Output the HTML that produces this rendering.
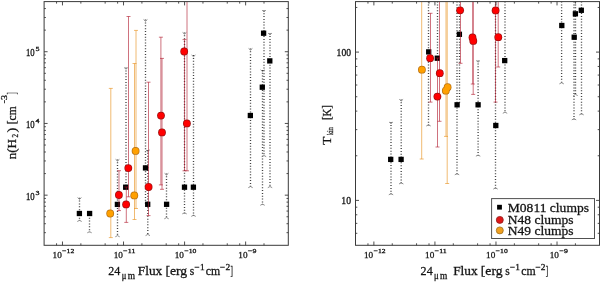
<!DOCTYPE html>
<html><head><meta charset="utf-8"><style>
html,body{margin:0;padding:0;background:#fff;width:600px;height:282px;overflow:hidden;font-family:"Liberation Serif",serif;}
svg{display:block;will-change:transform}
</style></head><body>
<svg width="600" height="282" viewBox="0 0 600 282"><defs><clipPath id="c0"><rect x="44.1" y="1.6" width="244.20000000000002" height="243.70000000000002"/></clipPath><clipPath id="c311"><rect x="355.5" y="1.6" width="244.0" height="243.70000000000002"/></clipPath></defs>
<g clip-path="url(#c0)">
<line x1="79.50" y1="197.70" x2="79.50" y2="221.00" stroke="#404040" stroke-width="1.35" stroke-dasharray="1 1.86"/>
<polyline points="77.60,197.60 79.50,199.30 81.40,197.60" fill="none" stroke="#7a7a7a" stroke-width="0.85"/>
<polyline points="77.30,221.50 79.50,220.30 81.70,221.50" fill="none" stroke="#7a7a7a" stroke-width="0.85"/>
<line x1="89.50" y1="212.00" x2="89.50" y2="232.30" stroke="#404040" stroke-width="1.35" stroke-dasharray="1 1.86"/>
<polyline points="87.30,232.80 89.50,231.60 91.70,232.80" fill="none" stroke="#7a7a7a" stroke-width="0.85"/>
<line x1="117.50" y1="159.40" x2="117.50" y2="236.30" stroke="#404040" stroke-width="1.35" stroke-dasharray="1 1.86"/>
<polyline points="115.60,159.30 117.50,161.00 119.40,159.30" fill="none" stroke="#7a7a7a" stroke-width="0.85"/>
<polyline points="115.30,236.80 117.50,235.60 119.70,236.80" fill="none" stroke="#7a7a7a" stroke-width="0.85"/>
<line x1="126.00" y1="67.60" x2="126.00" y2="189.00" stroke="#404040" stroke-width="1.35" stroke-dasharray="1 1.86"/>
<polyline points="124.10,67.50 126.00,69.20 127.90,67.50" fill="none" stroke="#7a7a7a" stroke-width="0.85"/>
<line x1="145.50" y1="19.60" x2="145.50" y2="204.00" stroke="#404040" stroke-width="1.35" stroke-dasharray="1 1.86"/>
<polyline points="143.60,19.50 145.50,21.20 147.40,19.50" fill="none" stroke="#7a7a7a" stroke-width="0.85"/>
<line x1="147.80" y1="150.00" x2="147.80" y2="235.10" stroke="#404040" stroke-width="1.35" stroke-dasharray="1 1.86"/>
<polyline points="145.90,149.90 147.80,151.60 149.70,149.90" fill="none" stroke="#7a7a7a" stroke-width="0.85"/>
<polyline points="145.60,235.60 147.80,234.40 150.00,235.60" fill="none" stroke="#7a7a7a" stroke-width="0.85"/>
<line x1="166.50" y1="173.40" x2="166.50" y2="218.30" stroke="#404040" stroke-width="1.35" stroke-dasharray="1 1.86"/>
<polyline points="164.60,173.30 166.50,175.00 168.40,173.30" fill="none" stroke="#7a7a7a" stroke-width="0.85"/>
<polyline points="164.30,218.80 166.50,217.60 168.70,218.80" fill="none" stroke="#7a7a7a" stroke-width="0.85"/>
<line x1="184.50" y1="32.50" x2="184.50" y2="213.40" stroke="#404040" stroke-width="1.35" stroke-dasharray="1 1.86"/>
<polyline points="182.60,32.40 184.50,34.10 186.40,32.40" fill="none" stroke="#7a7a7a" stroke-width="0.85"/>
<polyline points="182.30,213.90 184.50,212.70 186.70,213.90" fill="none" stroke="#7a7a7a" stroke-width="0.85"/>
<line x1="193.50" y1="55.10" x2="193.50" y2="215.90" stroke="#404040" stroke-width="1.35" stroke-dasharray="1 1.86"/>
<polyline points="191.60,55.00 193.50,56.70 195.40,55.00" fill="none" stroke="#7a7a7a" stroke-width="0.85"/>
<polyline points="191.30,216.40 193.50,215.20 195.70,216.40" fill="none" stroke="#7a7a7a" stroke-width="0.85"/>
<line x1="250.50" y1="48.50" x2="250.50" y2="187.20" stroke="#404040" stroke-width="1.35" stroke-dasharray="1 1.86"/>
<polyline points="248.60,48.40 250.50,50.10 252.40,48.40" fill="none" stroke="#7a7a7a" stroke-width="0.85"/>
<polyline points="248.30,187.70 250.50,186.50 252.70,187.70" fill="none" stroke="#7a7a7a" stroke-width="0.85"/>
<line x1="262.50" y1="69.90" x2="262.50" y2="204.80" stroke="#404040" stroke-width="1.35" stroke-dasharray="1 1.86"/>
<polyline points="260.60,69.80 262.50,71.50 264.40,69.80" fill="none" stroke="#7a7a7a" stroke-width="0.85"/>
<polyline points="260.30,205.30 262.50,204.10 264.70,205.30" fill="none" stroke="#7a7a7a" stroke-width="0.85"/>
<line x1="264.00" y1="10.30" x2="264.00" y2="156.20" stroke="#404040" stroke-width="1.35" stroke-dasharray="1 1.86"/>
<polyline points="262.10,10.20 264.00,11.90 265.90,10.20" fill="none" stroke="#7a7a7a" stroke-width="0.85"/>
<polyline points="261.80,156.70 264.00,155.50 266.20,156.70" fill="none" stroke="#7a7a7a" stroke-width="0.85"/>
<line x1="270.00" y1="33.20" x2="270.00" y2="187.20" stroke="#404040" stroke-width="1.35" stroke-dasharray="1 1.86"/>
<polyline points="268.10,33.10 270.00,34.80 271.90,33.10" fill="none" stroke="#7a7a7a" stroke-width="0.85"/>
<polyline points="267.80,187.70 270.00,186.50 272.20,187.70" fill="none" stroke="#7a7a7a" stroke-width="0.85"/>
<rect x="76.75" y="210.85" width="5.3" height="5.3" fill="#000"/>
<rect x="86.95" y="210.85" width="5.3" height="5.3" fill="#000"/>
<rect x="114.75" y="201.75" width="5.3" height="5.3" fill="#000"/>
<rect x="123.05" y="184.55" width="5.3" height="5.3" fill="#000"/>
<rect x="142.85" y="165.25" width="5.3" height="5.3" fill="#000"/>
<rect x="145.05" y="201.65" width="5.3" height="5.3" fill="#000"/>
<rect x="163.95" y="201.65" width="5.3" height="5.3" fill="#000"/>
<rect x="181.85" y="184.55" width="5.3" height="5.3" fill="#000"/>
<rect x="190.75" y="184.55" width="5.3" height="5.3" fill="#000"/>
<rect x="247.70" y="112.85" width="5.3" height="5.3" fill="#000"/>
<rect x="259.65" y="84.55" width="5.3" height="5.3" fill="#000"/>
<rect x="260.95" y="30.55" width="5.3" height="5.3" fill="#000"/>
<rect x="267.15" y="58.25" width="5.3" height="5.3" fill="#000"/>
<line x1="119.00" y1="170.70" x2="119.00" y2="210.60" stroke="rgb(175,20,40)" stroke-width="1.0" stroke-opacity="0.6"/>
<line x1="117.00" y1="170.70" x2="121.00" y2="170.70" stroke="rgb(175,20,40)" stroke-width="1.0" stroke-opacity="0.6"/>
<line x1="117.00" y1="210.60" x2="121.00" y2="210.60" stroke="rgb(175,20,40)" stroke-width="1.0" stroke-opacity="0.6"/>
<line x1="126.30" y1="187.00" x2="126.30" y2="222.40" stroke="rgb(175,20,40)" stroke-width="1.0" stroke-opacity="0.6"/>
<line x1="124.30" y1="187.00" x2="128.30" y2="187.00" stroke="rgb(175,20,40)" stroke-width="1.0" stroke-opacity="0.6"/>
<line x1="124.30" y1="222.40" x2="128.30" y2="222.40" stroke="rgb(175,20,40)" stroke-width="1.0" stroke-opacity="0.6"/>
<line x1="128.50" y1="16.50" x2="128.50" y2="196.80" stroke="rgb(175,20,40)" stroke-width="1.0" stroke-opacity="0.6"/>
<line x1="126.50" y1="16.50" x2="130.50" y2="16.50" stroke="rgb(175,20,40)" stroke-width="1.0" stroke-opacity="0.6"/>
<line x1="126.50" y1="196.80" x2="130.50" y2="196.80" stroke="rgb(175,20,40)" stroke-width="1.0" stroke-opacity="0.6"/>
<line x1="148.50" y1="82.20" x2="148.50" y2="215.60" stroke="rgb(175,20,40)" stroke-width="1.0" stroke-opacity="0.6"/>
<line x1="146.50" y1="82.20" x2="150.50" y2="82.20" stroke="rgb(175,20,40)" stroke-width="1.0" stroke-opacity="0.6"/>
<line x1="146.50" y1="215.60" x2="150.50" y2="215.60" stroke="rgb(175,20,40)" stroke-width="1.0" stroke-opacity="0.6"/>
<line x1="160.90" y1="37.20" x2="160.90" y2="184.90" stroke="rgb(175,20,40)" stroke-width="1.0" stroke-opacity="0.6"/>
<line x1="158.90" y1="37.20" x2="162.90" y2="37.20" stroke="rgb(175,20,40)" stroke-width="1.0" stroke-opacity="0.6"/>
<line x1="158.90" y1="184.90" x2="162.90" y2="184.90" stroke="rgb(175,20,40)" stroke-width="1.0" stroke-opacity="0.6"/>
<line x1="162.00" y1="58.40" x2="162.00" y2="189.30" stroke="rgb(175,20,40)" stroke-width="1.0" stroke-opacity="0.6"/>
<line x1="160.00" y1="58.40" x2="164.00" y2="58.40" stroke="rgb(175,20,40)" stroke-width="1.0" stroke-opacity="0.6"/>
<line x1="160.00" y1="189.30" x2="164.00" y2="189.30" stroke="rgb(175,20,40)" stroke-width="1.0" stroke-opacity="0.6"/>
<line x1="184.50" y1="39.60" x2="184.50" y2="170.80" stroke="rgb(175,20,40)" stroke-width="1.0" stroke-opacity="0.6"/>
<line x1="182.50" y1="39.60" x2="186.50" y2="39.60" stroke="rgb(175,20,40)" stroke-width="1.0" stroke-opacity="0.6"/>
<line x1="182.50" y1="170.80" x2="186.50" y2="170.80" stroke="rgb(175,20,40)" stroke-width="1.0" stroke-opacity="0.6"/>
<line x1="187.00" y1="1.60" x2="187.00" y2="170.80" stroke="rgb(175,20,40)" stroke-width="1.0" stroke-opacity="0.6"/>
<line x1="185.00" y1="170.80" x2="189.00" y2="170.80" stroke="rgb(175,20,40)" stroke-width="1.0" stroke-opacity="0.6"/>
<circle cx="118.90" cy="195.00" r="3.9" fill="#a01010" stroke="none" stroke-width="0"/>
<circle cx="126.10" cy="204.40" r="3.9" fill="#a01010" stroke="none" stroke-width="0"/>
<circle cx="128.30" cy="168.10" r="3.9" fill="#a01010" stroke="none" stroke-width="0"/>
<circle cx="148.60" cy="187.00" r="3.9" fill="#a01010" stroke="none" stroke-width="0"/>
<circle cx="161.00" cy="115.60" r="3.9" fill="#a01010" stroke="none" stroke-width="0"/>
<circle cx="162.00" cy="132.40" r="3.9" fill="#a01010" stroke="none" stroke-width="0"/>
<circle cx="184.20" cy="51.50" r="3.9" fill="#a01010" stroke="none" stroke-width="0"/>
<circle cx="186.90" cy="123.40" r="3.9" fill="#a01010" stroke="none" stroke-width="0"/>
<circle cx="118.90" cy="195.00" r="3.15" fill="#ff0000" stroke="none" stroke-width="0"/>
<circle cx="126.10" cy="204.40" r="3.15" fill="#ff0000" stroke="none" stroke-width="0"/>
<circle cx="128.30" cy="168.10" r="3.15" fill="#ff0000" stroke="none" stroke-width="0"/>
<circle cx="148.60" cy="187.00" r="3.15" fill="#ff0000" stroke="none" stroke-width="0"/>
<circle cx="161.00" cy="115.60" r="3.15" fill="#ff0000" stroke="none" stroke-width="0"/>
<circle cx="162.00" cy="132.40" r="3.15" fill="#ff0000" stroke="none" stroke-width="0"/>
<circle cx="184.20" cy="51.50" r="3.15" fill="#ff0000" stroke="none" stroke-width="0"/>
<circle cx="186.90" cy="123.40" r="3.15" fill="#ff0000" stroke="none" stroke-width="0"/>
<line x1="110.80" y1="88.40" x2="110.80" y2="237.60" stroke="rgb(230,140,20)" stroke-width="1.0" stroke-opacity="0.6"/>
<line x1="108.80" y1="88.40" x2="112.80" y2="88.40" stroke="rgb(230,140,20)" stroke-width="1.0" stroke-opacity="0.6"/>
<line x1="108.80" y1="237.60" x2="112.80" y2="237.60" stroke="rgb(230,140,20)" stroke-width="1.0" stroke-opacity="0.6"/>
<line x1="134.50" y1="63.50" x2="134.50" y2="219.50" stroke="rgb(230,140,20)" stroke-width="1.0" stroke-opacity="0.6"/>
<line x1="132.50" y1="63.50" x2="136.50" y2="63.50" stroke="rgb(230,140,20)" stroke-width="1.0" stroke-opacity="0.6"/>
<line x1="132.50" y1="219.50" x2="136.50" y2="219.50" stroke="rgb(230,140,20)" stroke-width="1.0" stroke-opacity="0.6"/>
<line x1="136.00" y1="30.40" x2="136.00" y2="208.50" stroke="rgb(230,140,20)" stroke-width="1.0" stroke-opacity="0.6"/>
<line x1="134.00" y1="30.40" x2="138.00" y2="30.40" stroke="rgb(230,140,20)" stroke-width="1.0" stroke-opacity="0.6"/>
<line x1="134.00" y1="208.50" x2="138.00" y2="208.50" stroke="rgb(230,140,20)" stroke-width="1.0" stroke-opacity="0.6"/>
<circle cx="110.20" cy="213.50" r="3.9" fill="#b87010" stroke="none" stroke-width="0"/>
<circle cx="134.30" cy="195.40" r="3.9" fill="#b87010" stroke="none" stroke-width="0"/>
<circle cx="135.60" cy="150.90" r="3.9" fill="#b87010" stroke="none" stroke-width="0"/>
<circle cx="110.20" cy="213.50" r="3.15" fill="#ffa000" stroke="none" stroke-width="0"/>
<circle cx="134.30" cy="195.40" r="3.15" fill="#ffa000" stroke="none" stroke-width="0"/>
<circle cx="135.60" cy="150.90" r="3.15" fill="#ffa000" stroke="none" stroke-width="0"/>
</g>
<rect x="44.10" y="1.60" width="244.20" height="243.70" fill="none" stroke="#3a3a3a" stroke-width="1.0"/>
<line x1="56.56" y1="245.30" x2="56.56" y2="243.30" stroke="#3a3a3a" stroke-width="0.9" />
<line x1="56.56" y1="1.60" x2="56.56" y2="3.60" stroke="#3a3a3a" stroke-width="0.9" />
<line x1="62.48" y1="245.30" x2="62.48" y2="241.50" stroke="#3a3a3a" stroke-width="0.9" />
<line x1="62.48" y1="1.60" x2="62.48" y2="5.40" stroke="#3a3a3a" stroke-width="0.9" />
<line x1="80.86" y1="245.30" x2="80.86" y2="243.30" stroke="#3a3a3a" stroke-width="0.9" />
<line x1="80.86" y1="1.60" x2="80.86" y2="3.60" stroke="#3a3a3a" stroke-width="0.9" />
<line x1="105.15" y1="245.30" x2="105.15" y2="243.30" stroke="#3a3a3a" stroke-width="0.9" />
<line x1="105.15" y1="1.60" x2="105.15" y2="3.60" stroke="#3a3a3a" stroke-width="0.9" />
<line x1="117.61" y1="245.30" x2="117.61" y2="243.30" stroke="#3a3a3a" stroke-width="0.9" />
<line x1="117.61" y1="1.60" x2="117.61" y2="3.60" stroke="#3a3a3a" stroke-width="0.9" />
<line x1="123.53" y1="245.30" x2="123.53" y2="241.50" stroke="#3a3a3a" stroke-width="0.9" />
<line x1="123.53" y1="1.60" x2="123.53" y2="5.40" stroke="#3a3a3a" stroke-width="0.9" />
<line x1="141.91" y1="245.30" x2="141.91" y2="243.30" stroke="#3a3a3a" stroke-width="0.9" />
<line x1="141.91" y1="1.60" x2="141.91" y2="3.60" stroke="#3a3a3a" stroke-width="0.9" />
<line x1="166.20" y1="245.30" x2="166.20" y2="243.30" stroke="#3a3a3a" stroke-width="0.9" />
<line x1="166.20" y1="1.60" x2="166.20" y2="3.60" stroke="#3a3a3a" stroke-width="0.9" />
<line x1="178.66" y1="245.30" x2="178.66" y2="243.30" stroke="#3a3a3a" stroke-width="0.9" />
<line x1="178.66" y1="1.60" x2="178.66" y2="3.60" stroke="#3a3a3a" stroke-width="0.9" />
<line x1="184.58" y1="245.30" x2="184.58" y2="241.50" stroke="#3a3a3a" stroke-width="0.9" />
<line x1="184.58" y1="1.60" x2="184.58" y2="5.40" stroke="#3a3a3a" stroke-width="0.9" />
<line x1="202.96" y1="245.30" x2="202.96" y2="243.30" stroke="#3a3a3a" stroke-width="0.9" />
<line x1="202.96" y1="1.60" x2="202.96" y2="3.60" stroke="#3a3a3a" stroke-width="0.9" />
<line x1="227.25" y1="245.30" x2="227.25" y2="243.30" stroke="#3a3a3a" stroke-width="0.9" />
<line x1="227.25" y1="1.60" x2="227.25" y2="3.60" stroke="#3a3a3a" stroke-width="0.9" />
<line x1="239.71" y1="245.30" x2="239.71" y2="243.30" stroke="#3a3a3a" stroke-width="0.9" />
<line x1="239.71" y1="1.60" x2="239.71" y2="3.60" stroke="#3a3a3a" stroke-width="0.9" />
<line x1="245.63" y1="245.30" x2="245.63" y2="241.50" stroke="#3a3a3a" stroke-width="0.9" />
<line x1="245.63" y1="1.60" x2="245.63" y2="5.40" stroke="#3a3a3a" stroke-width="0.9" />
<line x1="264.01" y1="245.30" x2="264.01" y2="243.30" stroke="#3a3a3a" stroke-width="0.9" />
<line x1="264.01" y1="1.60" x2="264.01" y2="3.60" stroke="#3a3a3a" stroke-width="0.9" />
<line x1="44.10" y1="232.67" x2="45.90" y2="232.67" stroke="#3a3a3a" stroke-width="0.9" />
<line x1="288.30" y1="232.67" x2="286.50" y2="232.67" stroke="#3a3a3a" stroke-width="0.9" />
<line x1="44.10" y1="223.71" x2="45.90" y2="223.71" stroke="#3a3a3a" stroke-width="0.9" />
<line x1="288.30" y1="223.71" x2="286.50" y2="223.71" stroke="#3a3a3a" stroke-width="0.9" />
<line x1="44.10" y1="216.76" x2="45.90" y2="216.76" stroke="#3a3a3a" stroke-width="0.9" />
<line x1="288.30" y1="216.76" x2="286.50" y2="216.76" stroke="#3a3a3a" stroke-width="0.9" />
<line x1="44.10" y1="211.08" x2="45.90" y2="211.08" stroke="#3a3a3a" stroke-width="0.9" />
<line x1="288.30" y1="211.08" x2="286.50" y2="211.08" stroke="#3a3a3a" stroke-width="0.9" />
<line x1="44.10" y1="206.28" x2="45.90" y2="206.28" stroke="#3a3a3a" stroke-width="0.9" />
<line x1="288.30" y1="206.28" x2="286.50" y2="206.28" stroke="#3a3a3a" stroke-width="0.9" />
<line x1="44.10" y1="202.12" x2="45.90" y2="202.12" stroke="#3a3a3a" stroke-width="0.9" />
<line x1="288.30" y1="202.12" x2="286.50" y2="202.12" stroke="#3a3a3a" stroke-width="0.9" />
<line x1="44.10" y1="198.45" x2="45.90" y2="198.45" stroke="#3a3a3a" stroke-width="0.9" />
<line x1="288.30" y1="198.45" x2="286.50" y2="198.45" stroke="#3a3a3a" stroke-width="0.9" />
<line x1="44.10" y1="195.17" x2="47.60" y2="195.17" stroke="#3a3a3a" stroke-width="0.9" />
<line x1="288.30" y1="195.17" x2="284.80" y2="195.17" stroke="#3a3a3a" stroke-width="0.9" />
<line x1="44.10" y1="173.58" x2="45.90" y2="173.58" stroke="#3a3a3a" stroke-width="0.9" />
<line x1="288.30" y1="173.58" x2="286.50" y2="173.58" stroke="#3a3a3a" stroke-width="0.9" />
<line x1="44.10" y1="160.95" x2="45.90" y2="160.95" stroke="#3a3a3a" stroke-width="0.9" />
<line x1="288.30" y1="160.95" x2="286.50" y2="160.95" stroke="#3a3a3a" stroke-width="0.9" />
<line x1="44.10" y1="151.99" x2="45.90" y2="151.99" stroke="#3a3a3a" stroke-width="0.9" />
<line x1="288.30" y1="151.99" x2="286.50" y2="151.99" stroke="#3a3a3a" stroke-width="0.9" />
<line x1="44.10" y1="145.04" x2="45.90" y2="145.04" stroke="#3a3a3a" stroke-width="0.9" />
<line x1="288.30" y1="145.04" x2="286.50" y2="145.04" stroke="#3a3a3a" stroke-width="0.9" />
<line x1="44.10" y1="139.36" x2="45.90" y2="139.36" stroke="#3a3a3a" stroke-width="0.9" />
<line x1="288.30" y1="139.36" x2="286.50" y2="139.36" stroke="#3a3a3a" stroke-width="0.9" />
<line x1="44.10" y1="134.56" x2="45.90" y2="134.56" stroke="#3a3a3a" stroke-width="0.9" />
<line x1="288.30" y1="134.56" x2="286.50" y2="134.56" stroke="#3a3a3a" stroke-width="0.9" />
<line x1="44.10" y1="130.40" x2="45.90" y2="130.40" stroke="#3a3a3a" stroke-width="0.9" />
<line x1="288.30" y1="130.40" x2="286.50" y2="130.40" stroke="#3a3a3a" stroke-width="0.9" />
<line x1="44.10" y1="126.73" x2="45.90" y2="126.73" stroke="#3a3a3a" stroke-width="0.9" />
<line x1="288.30" y1="126.73" x2="286.50" y2="126.73" stroke="#3a3a3a" stroke-width="0.9" />
<line x1="44.10" y1="123.45" x2="47.60" y2="123.45" stroke="#3a3a3a" stroke-width="0.9" />
<line x1="288.30" y1="123.45" x2="284.80" y2="123.45" stroke="#3a3a3a" stroke-width="0.9" />
<line x1="44.10" y1="101.86" x2="45.90" y2="101.86" stroke="#3a3a3a" stroke-width="0.9" />
<line x1="288.30" y1="101.86" x2="286.50" y2="101.86" stroke="#3a3a3a" stroke-width="0.9" />
<line x1="44.10" y1="89.23" x2="45.90" y2="89.23" stroke="#3a3a3a" stroke-width="0.9" />
<line x1="288.30" y1="89.23" x2="286.50" y2="89.23" stroke="#3a3a3a" stroke-width="0.9" />
<line x1="44.10" y1="80.27" x2="45.90" y2="80.27" stroke="#3a3a3a" stroke-width="0.9" />
<line x1="288.30" y1="80.27" x2="286.50" y2="80.27" stroke="#3a3a3a" stroke-width="0.9" />
<line x1="44.10" y1="73.32" x2="45.90" y2="73.32" stroke="#3a3a3a" stroke-width="0.9" />
<line x1="288.30" y1="73.32" x2="286.50" y2="73.32" stroke="#3a3a3a" stroke-width="0.9" />
<line x1="44.10" y1="67.64" x2="45.90" y2="67.64" stroke="#3a3a3a" stroke-width="0.9" />
<line x1="288.30" y1="67.64" x2="286.50" y2="67.64" stroke="#3a3a3a" stroke-width="0.9" />
<line x1="44.10" y1="62.84" x2="45.90" y2="62.84" stroke="#3a3a3a" stroke-width="0.9" />
<line x1="288.30" y1="62.84" x2="286.50" y2="62.84" stroke="#3a3a3a" stroke-width="0.9" />
<line x1="44.10" y1="58.68" x2="45.90" y2="58.68" stroke="#3a3a3a" stroke-width="0.9" />
<line x1="288.30" y1="58.68" x2="286.50" y2="58.68" stroke="#3a3a3a" stroke-width="0.9" />
<line x1="44.10" y1="55.01" x2="45.90" y2="55.01" stroke="#3a3a3a" stroke-width="0.9" />
<line x1="288.30" y1="55.01" x2="286.50" y2="55.01" stroke="#3a3a3a" stroke-width="0.9" />
<line x1="44.10" y1="51.73" x2="47.60" y2="51.73" stroke="#3a3a3a" stroke-width="0.9" />
<line x1="288.30" y1="51.73" x2="284.80" y2="51.73" stroke="#3a3a3a" stroke-width="0.9" />
<line x1="44.10" y1="30.14" x2="45.90" y2="30.14" stroke="#3a3a3a" stroke-width="0.9" />
<line x1="288.30" y1="30.14" x2="286.50" y2="30.14" stroke="#3a3a3a" stroke-width="0.9" />
<line x1="44.10" y1="17.51" x2="45.90" y2="17.51" stroke="#3a3a3a" stroke-width="0.9" />
<line x1="288.30" y1="17.51" x2="286.50" y2="17.51" stroke="#3a3a3a" stroke-width="0.9" />
<line x1="44.10" y1="8.55" x2="45.90" y2="8.55" stroke="#3a3a3a" stroke-width="0.9" />
<line x1="288.30" y1="8.55" x2="286.50" y2="8.55" stroke="#3a3a3a" stroke-width="0.9" />
<g clip-path="url(#c311)">
<line x1="391.00" y1="122.10" x2="391.00" y2="194.30" stroke="#404040" stroke-width="1.35" stroke-dasharray="1 1.86"/>
<polyline points="389.10,122.00 391.00,123.70 392.90,122.00" fill="none" stroke="#7a7a7a" stroke-width="0.85"/>
<polyline points="388.80,194.80 391.00,193.60 393.20,194.80" fill="none" stroke="#7a7a7a" stroke-width="0.85"/>
<line x1="401.20" y1="99.40" x2="401.20" y2="183.50" stroke="#404040" stroke-width="1.35" stroke-dasharray="1 1.86"/>
<polyline points="399.30,99.30 401.20,101.00 403.10,99.30" fill="none" stroke="#7a7a7a" stroke-width="0.85"/>
<polyline points="399.00,184.00 401.20,182.80 403.40,184.00" fill="none" stroke="#7a7a7a" stroke-width="0.85"/>
<line x1="428.50" y1="1.60" x2="428.50" y2="125.50" stroke="#404040" stroke-width="1.35" stroke-dasharray="1 1.86"/>
<polyline points="426.30,126.00 428.50,124.80 430.70,126.00" fill="none" stroke="#7a7a7a" stroke-width="0.85"/>
<line x1="437.50" y1="1.60" x2="437.50" y2="60.00" stroke="#404040" stroke-width="1.35" stroke-dasharray="1 1.86"/>
<line x1="457.00" y1="1.60" x2="457.00" y2="174.30" stroke="#404040" stroke-width="1.35" stroke-dasharray="1 1.86"/>
<polyline points="454.80,174.80 457.00,173.60 459.20,174.80" fill="none" stroke="#7a7a7a" stroke-width="0.85"/>
<line x1="459.50" y1="1.60" x2="459.50" y2="104.00" stroke="#404040" stroke-width="1.35" stroke-dasharray="1 1.86"/>
<line x1="478.10" y1="60.60" x2="478.10" y2="155.70" stroke="#404040" stroke-width="1.35" stroke-dasharray="1 1.86"/>
<polyline points="476.20,60.50 478.10,62.20 480.00,60.50" fill="none" stroke="#7a7a7a" stroke-width="0.85"/>
<polyline points="475.90,156.20 478.10,155.00 480.30,156.20" fill="none" stroke="#7a7a7a" stroke-width="0.85"/>
<line x1="495.50" y1="1.60" x2="495.50" y2="188.60" stroke="#404040" stroke-width="1.35" stroke-dasharray="1 1.86"/>
<polyline points="493.30,189.10 495.50,187.90 497.70,189.10" fill="none" stroke="#7a7a7a" stroke-width="0.85"/>
<line x1="505.00" y1="1.60" x2="505.00" y2="112.80" stroke="#404040" stroke-width="1.35" stroke-dasharray="1 1.86"/>
<polyline points="502.80,113.30 505.00,112.10 507.20,113.30" fill="none" stroke="#7a7a7a" stroke-width="0.85"/>
<line x1="561.60" y1="1.60" x2="561.60" y2="83.40" stroke="#404040" stroke-width="1.35" stroke-dasharray="1 1.86"/>
<polyline points="559.40,83.90 561.60,82.70 563.80,83.90" fill="none" stroke="#7a7a7a" stroke-width="0.85"/>
<line x1="574.00" y1="1.60" x2="574.00" y2="119.40" stroke="#404040" stroke-width="1.35" stroke-dasharray="1 1.86"/>
<polyline points="571.80,119.90 574.00,118.70 576.20,119.90" fill="none" stroke="#7a7a7a" stroke-width="0.85"/>
<line x1="575.50" y1="1.60" x2="575.50" y2="95.10" stroke="#404040" stroke-width="1.35" stroke-dasharray="1 1.86"/>
<polyline points="573.30,95.60 575.50,94.40 577.70,95.60" fill="none" stroke="#7a7a7a" stroke-width="0.85"/>
<line x1="581.50" y1="1.60" x2="581.50" y2="114.40" stroke="#404040" stroke-width="1.35" stroke-dasharray="1 1.86"/>
<polyline points="579.30,114.90 581.50,113.70 583.70,114.90" fill="none" stroke="#7a7a7a" stroke-width="0.85"/>
<rect x="388.05" y="156.75" width="5.3" height="5.3" fill="#000"/>
<rect x="398.45" y="156.75" width="5.3" height="5.3" fill="#000"/>
<rect x="426.05" y="49.25" width="5.3" height="5.3" fill="#000"/>
<rect x="434.65" y="55.55" width="5.3" height="5.3" fill="#000"/>
<rect x="454.45" y="102.15" width="5.3" height="5.3" fill="#000"/>
<rect x="456.75" y="31.65" width="5.3" height="5.3" fill="#000"/>
<rect x="475.45" y="102.15" width="5.3" height="5.3" fill="#000"/>
<rect x="493.15" y="122.85" width="5.3" height="5.3" fill="#000"/>
<rect x="502.05" y="57.95" width="5.3" height="5.3" fill="#000"/>
<rect x="559.15" y="22.85" width="5.3" height="5.3" fill="#000"/>
<rect x="571.55" y="34.55" width="5.3" height="5.3" fill="#000"/>
<rect x="572.75" y="11.15" width="5.3" height="5.3" fill="#000"/>
<rect x="578.65" y="7.65" width="5.3" height="5.3" fill="#000"/>
<line x1="430.50" y1="13.30" x2="430.50" y2="102.10" stroke="rgb(175,20,40)" stroke-width="1.0" stroke-opacity="0.6"/>
<line x1="428.50" y1="13.30" x2="432.50" y2="13.30" stroke="rgb(175,20,40)" stroke-width="1.0" stroke-opacity="0.6"/>
<line x1="428.50" y1="102.10" x2="432.50" y2="102.10" stroke="rgb(175,20,40)" stroke-width="1.0" stroke-opacity="0.6"/>
<line x1="437.50" y1="58.00" x2="437.50" y2="147.00" stroke="rgb(175,20,40)" stroke-width="1.0" stroke-opacity="0.6"/>
<line x1="435.50" y1="58.00" x2="439.50" y2="58.00" stroke="rgb(175,20,40)" stroke-width="1.0" stroke-opacity="0.6"/>
<line x1="435.50" y1="147.00" x2="439.50" y2="147.00" stroke="rgb(175,20,40)" stroke-width="1.0" stroke-opacity="0.6"/>
<line x1="439.50" y1="1.60" x2="439.50" y2="121.30" stroke="rgb(175,20,40)" stroke-width="1.0" stroke-opacity="0.6"/>
<line x1="437.50" y1="121.30" x2="441.50" y2="121.30" stroke="rgb(175,20,40)" stroke-width="1.0" stroke-opacity="0.6"/>
<line x1="460.50" y1="1.60" x2="460.50" y2="63.30" stroke="rgb(175,20,40)" stroke-width="1.0" stroke-opacity="0.6"/>
<line x1="458.50" y1="63.30" x2="462.50" y2="63.30" stroke="rgb(175,20,40)" stroke-width="1.0" stroke-opacity="0.6"/>
<line x1="472.80" y1="1.60" x2="472.80" y2="84.00" stroke="rgb(175,20,40)" stroke-width="1.0" stroke-opacity="0.6"/>
<line x1="470.80" y1="84.00" x2="474.80" y2="84.00" stroke="rgb(175,20,40)" stroke-width="1.0" stroke-opacity="0.6"/>
<line x1="473.20" y1="1.60" x2="473.20" y2="94.40" stroke="rgb(175,20,40)" stroke-width="1.0" stroke-opacity="0.6"/>
<line x1="471.20" y1="94.40" x2="475.20" y2="94.40" stroke="rgb(175,20,40)" stroke-width="1.0" stroke-opacity="0.6"/>
<line x1="495.50" y1="1.60" x2="495.50" y2="102.10" stroke="rgb(175,20,40)" stroke-width="1.0" stroke-opacity="0.6"/>
<line x1="493.50" y1="102.10" x2="497.50" y2="102.10" stroke="rgb(175,20,40)" stroke-width="1.0" stroke-opacity="0.6"/>
<line x1="498.20" y1="1.60" x2="498.20" y2="67.00" stroke="rgb(175,20,40)" stroke-width="1.0" stroke-opacity="0.6"/>
<line x1="496.20" y1="67.00" x2="500.20" y2="67.00" stroke="rgb(175,20,40)" stroke-width="1.0" stroke-opacity="0.6"/>
<circle cx="430.10" cy="58.20" r="3.9" fill="#a01010" stroke="none" stroke-width="0"/>
<circle cx="437.40" cy="96.60" r="3.9" fill="#a01010" stroke="none" stroke-width="0"/>
<circle cx="439.80" cy="73.20" r="3.9" fill="#a01010" stroke="none" stroke-width="0"/>
<circle cx="460.10" cy="10.30" r="3.9" fill="#a01010" stroke="none" stroke-width="0"/>
<circle cx="472.50" cy="37.40" r="3.9" fill="#a01010" stroke="none" stroke-width="0"/>
<circle cx="473.30" cy="40.90" r="3.9" fill="#a01010" stroke="none" stroke-width="0"/>
<circle cx="495.60" cy="10.40" r="3.9" fill="#a01010" stroke="none" stroke-width="0"/>
<circle cx="498.30" cy="37.20" r="3.9" fill="#a01010" stroke="none" stroke-width="0"/>
<circle cx="430.10" cy="58.20" r="3.15" fill="#ff0000" stroke="none" stroke-width="0"/>
<circle cx="437.40" cy="96.60" r="3.15" fill="#ff0000" stroke="none" stroke-width="0"/>
<circle cx="439.80" cy="73.20" r="3.15" fill="#ff0000" stroke="none" stroke-width="0"/>
<circle cx="460.10" cy="10.30" r="3.15" fill="#ff0000" stroke="none" stroke-width="0"/>
<circle cx="472.50" cy="37.40" r="3.15" fill="#ff0000" stroke="none" stroke-width="0"/>
<circle cx="473.30" cy="40.90" r="3.15" fill="#ff0000" stroke="none" stroke-width="0"/>
<circle cx="495.60" cy="10.40" r="3.15" fill="#ff0000" stroke="none" stroke-width="0"/>
<circle cx="498.30" cy="37.20" r="3.15" fill="#ff0000" stroke="none" stroke-width="0"/>
<line x1="421.70" y1="1.60" x2="421.70" y2="159.00" stroke="rgb(230,140,20)" stroke-width="1.0" stroke-opacity="0.6"/>
<line x1="419.70" y1="159.00" x2="423.70" y2="159.00" stroke="rgb(230,140,20)" stroke-width="1.0" stroke-opacity="0.6"/>
<line x1="446.00" y1="1.60" x2="446.00" y2="136.40" stroke="rgb(230,140,20)" stroke-width="1.0" stroke-opacity="0.6"/>
<line x1="444.00" y1="136.40" x2="448.00" y2="136.40" stroke="rgb(230,140,20)" stroke-width="1.0" stroke-opacity="0.6"/>
<line x1="447.20" y1="1.60" x2="447.20" y2="183.50" stroke="rgb(230,140,20)" stroke-width="1.0" stroke-opacity="0.6"/>
<line x1="445.20" y1="183.50" x2="449.20" y2="183.50" stroke="rgb(230,140,20)" stroke-width="1.0" stroke-opacity="0.6"/>
<circle cx="421.90" cy="69.70" r="3.9" fill="#b87010" stroke="none" stroke-width="0"/>
<circle cx="445.80" cy="90.70" r="3.9" fill="#b87010" stroke="none" stroke-width="0"/>
<circle cx="447.60" cy="87.20" r="3.9" fill="#b87010" stroke="none" stroke-width="0"/>
<circle cx="421.90" cy="69.70" r="3.15" fill="#ffa000" stroke="none" stroke-width="0"/>
<circle cx="445.80" cy="90.70" r="3.15" fill="#ffa000" stroke="none" stroke-width="0"/>
<circle cx="447.60" cy="87.20" r="3.15" fill="#ffa000" stroke="none" stroke-width="0"/>
</g>
<rect x="355.50" y="1.60" width="244.00" height="243.70" fill="none" stroke="#3a3a3a" stroke-width="1.0"/>
<line x1="367.96" y1="245.30" x2="367.96" y2="243.30" stroke="#3a3a3a" stroke-width="0.9" />
<line x1="367.96" y1="1.60" x2="367.96" y2="3.60" stroke="#3a3a3a" stroke-width="0.9" />
<line x1="373.88" y1="245.30" x2="373.88" y2="241.50" stroke="#3a3a3a" stroke-width="0.9" />
<line x1="373.88" y1="1.60" x2="373.88" y2="5.40" stroke="#3a3a3a" stroke-width="0.9" />
<line x1="392.26" y1="245.30" x2="392.26" y2="243.30" stroke="#3a3a3a" stroke-width="0.9" />
<line x1="392.26" y1="1.60" x2="392.26" y2="3.60" stroke="#3a3a3a" stroke-width="0.9" />
<line x1="416.55" y1="245.30" x2="416.55" y2="243.30" stroke="#3a3a3a" stroke-width="0.9" />
<line x1="416.55" y1="1.60" x2="416.55" y2="3.60" stroke="#3a3a3a" stroke-width="0.9" />
<line x1="429.01" y1="245.30" x2="429.01" y2="243.30" stroke="#3a3a3a" stroke-width="0.9" />
<line x1="429.01" y1="1.60" x2="429.01" y2="3.60" stroke="#3a3a3a" stroke-width="0.9" />
<line x1="434.93" y1="245.30" x2="434.93" y2="241.50" stroke="#3a3a3a" stroke-width="0.9" />
<line x1="434.93" y1="1.60" x2="434.93" y2="5.40" stroke="#3a3a3a" stroke-width="0.9" />
<line x1="453.31" y1="245.30" x2="453.31" y2="243.30" stroke="#3a3a3a" stroke-width="0.9" />
<line x1="453.31" y1="1.60" x2="453.31" y2="3.60" stroke="#3a3a3a" stroke-width="0.9" />
<line x1="477.60" y1="245.30" x2="477.60" y2="243.30" stroke="#3a3a3a" stroke-width="0.9" />
<line x1="477.60" y1="1.60" x2="477.60" y2="3.60" stroke="#3a3a3a" stroke-width="0.9" />
<line x1="490.06" y1="245.30" x2="490.06" y2="243.30" stroke="#3a3a3a" stroke-width="0.9" />
<line x1="490.06" y1="1.60" x2="490.06" y2="3.60" stroke="#3a3a3a" stroke-width="0.9" />
<line x1="495.98" y1="245.30" x2="495.98" y2="241.50" stroke="#3a3a3a" stroke-width="0.9" />
<line x1="495.98" y1="1.60" x2="495.98" y2="5.40" stroke="#3a3a3a" stroke-width="0.9" />
<line x1="514.36" y1="245.30" x2="514.36" y2="243.30" stroke="#3a3a3a" stroke-width="0.9" />
<line x1="514.36" y1="1.60" x2="514.36" y2="3.60" stroke="#3a3a3a" stroke-width="0.9" />
<line x1="538.65" y1="245.30" x2="538.65" y2="243.30" stroke="#3a3a3a" stroke-width="0.9" />
<line x1="538.65" y1="1.60" x2="538.65" y2="3.60" stroke="#3a3a3a" stroke-width="0.9" />
<line x1="551.11" y1="245.30" x2="551.11" y2="243.30" stroke="#3a3a3a" stroke-width="0.9" />
<line x1="551.11" y1="1.60" x2="551.11" y2="3.60" stroke="#3a3a3a" stroke-width="0.9" />
<line x1="557.03" y1="245.30" x2="557.03" y2="241.50" stroke="#3a3a3a" stroke-width="0.9" />
<line x1="557.03" y1="1.60" x2="557.03" y2="5.40" stroke="#3a3a3a" stroke-width="0.9" />
<line x1="575.41" y1="245.30" x2="575.41" y2="243.30" stroke="#3a3a3a" stroke-width="0.9" />
<line x1="575.41" y1="1.60" x2="575.41" y2="3.60" stroke="#3a3a3a" stroke-width="0.9" />
<line x1="355.50" y1="233.30" x2="357.30" y2="233.30" stroke="#3a3a3a" stroke-width="0.9" />
<line x1="599.50" y1="233.30" x2="597.70" y2="233.30" stroke="#3a3a3a" stroke-width="0.9" />
<line x1="355.50" y1="223.37" x2="357.30" y2="223.37" stroke="#3a3a3a" stroke-width="0.9" />
<line x1="599.50" y1="223.37" x2="597.70" y2="223.37" stroke="#3a3a3a" stroke-width="0.9" />
<line x1="355.50" y1="214.77" x2="357.30" y2="214.77" stroke="#3a3a3a" stroke-width="0.9" />
<line x1="599.50" y1="214.77" x2="597.70" y2="214.77" stroke="#3a3a3a" stroke-width="0.9" />
<line x1="355.50" y1="207.19" x2="357.30" y2="207.19" stroke="#3a3a3a" stroke-width="0.9" />
<line x1="599.50" y1="207.19" x2="597.70" y2="207.19" stroke="#3a3a3a" stroke-width="0.9" />
<line x1="355.50" y1="200.40" x2="359.00" y2="200.40" stroke="#3a3a3a" stroke-width="0.9" />
<line x1="599.50" y1="200.40" x2="596.00" y2="200.40" stroke="#3a3a3a" stroke-width="0.9" />
<line x1="355.50" y1="155.76" x2="357.30" y2="155.76" stroke="#3a3a3a" stroke-width="0.9" />
<line x1="599.50" y1="155.76" x2="597.70" y2="155.76" stroke="#3a3a3a" stroke-width="0.9" />
<line x1="355.50" y1="129.64" x2="357.30" y2="129.64" stroke="#3a3a3a" stroke-width="0.9" />
<line x1="599.50" y1="129.64" x2="597.70" y2="129.64" stroke="#3a3a3a" stroke-width="0.9" />
<line x1="355.50" y1="111.11" x2="357.30" y2="111.11" stroke="#3a3a3a" stroke-width="0.9" />
<line x1="599.50" y1="111.11" x2="597.70" y2="111.11" stroke="#3a3a3a" stroke-width="0.9" />
<line x1="355.50" y1="96.74" x2="357.30" y2="96.74" stroke="#3a3a3a" stroke-width="0.9" />
<line x1="599.50" y1="96.74" x2="597.70" y2="96.74" stroke="#3a3a3a" stroke-width="0.9" />
<line x1="355.50" y1="85.00" x2="357.30" y2="85.00" stroke="#3a3a3a" stroke-width="0.9" />
<line x1="599.50" y1="85.00" x2="597.70" y2="85.00" stroke="#3a3a3a" stroke-width="0.9" />
<line x1="355.50" y1="75.07" x2="357.30" y2="75.07" stroke="#3a3a3a" stroke-width="0.9" />
<line x1="599.50" y1="75.07" x2="597.70" y2="75.07" stroke="#3a3a3a" stroke-width="0.9" />
<line x1="355.50" y1="66.47" x2="357.30" y2="66.47" stroke="#3a3a3a" stroke-width="0.9" />
<line x1="599.50" y1="66.47" x2="597.70" y2="66.47" stroke="#3a3a3a" stroke-width="0.9" />
<line x1="355.50" y1="58.89" x2="357.30" y2="58.89" stroke="#3a3a3a" stroke-width="0.9" />
<line x1="599.50" y1="58.89" x2="597.70" y2="58.89" stroke="#3a3a3a" stroke-width="0.9" />
<line x1="355.50" y1="52.10" x2="359.00" y2="52.10" stroke="#3a3a3a" stroke-width="0.9" />
<line x1="599.50" y1="52.10" x2="596.00" y2="52.10" stroke="#3a3a3a" stroke-width="0.9" />
<line x1="355.50" y1="7.46" x2="357.30" y2="7.46" stroke="#3a3a3a" stroke-width="0.9" />
<line x1="599.50" y1="7.46" x2="597.70" y2="7.46" stroke="#3a3a3a" stroke-width="0.9" />
<text x="52.60" y="257.70" font-size="9.1" textLength="9.20" lengthAdjust="spacingAndGlyphs" font-family="Liberation Serif" fill="#141414" stroke="#141414" stroke-width="0.28" >10</text>
<text x="62.30" y="252.90" font-size="6.4" textLength="12.00" lengthAdjust="spacingAndGlyphs" font-family="Liberation Serif" fill="#141414" stroke="#141414" stroke-width="0.28" >&#8722;12</text>
<text x="113.65" y="257.70" font-size="9.1" textLength="9.20" lengthAdjust="spacingAndGlyphs" font-family="Liberation Serif" fill="#141414" stroke="#141414" stroke-width="0.28" >10</text>
<text x="123.35" y="252.90" font-size="6.4" textLength="12.00" lengthAdjust="spacingAndGlyphs" font-family="Liberation Serif" fill="#141414" stroke="#141414" stroke-width="0.28" >&#8722;11</text>
<text x="174.70" y="257.70" font-size="9.1" textLength="9.20" lengthAdjust="spacingAndGlyphs" font-family="Liberation Serif" fill="#141414" stroke="#141414" stroke-width="0.28" >10</text>
<text x="184.40" y="252.90" font-size="6.4" textLength="12.00" lengthAdjust="spacingAndGlyphs" font-family="Liberation Serif" fill="#141414" stroke="#141414" stroke-width="0.28" >&#8722;10</text>
<text x="238.35" y="257.70" font-size="9.1" textLength="9.20" lengthAdjust="spacingAndGlyphs" font-family="Liberation Serif" fill="#141414" stroke="#141414" stroke-width="0.28" >10</text>
<text x="248.05" y="252.90" font-size="6.4" textLength="8.40" lengthAdjust="spacingAndGlyphs" font-family="Liberation Serif" fill="#141414" stroke="#141414" stroke-width="0.28" >&#8722;9</text>
<text x="364.00" y="257.70" font-size="9.1" textLength="9.20" lengthAdjust="spacingAndGlyphs" font-family="Liberation Serif" fill="#141414" stroke="#141414" stroke-width="0.28" >10</text>
<text x="373.70" y="252.90" font-size="6.4" textLength="12.00" lengthAdjust="spacingAndGlyphs" font-family="Liberation Serif" fill="#141414" stroke="#141414" stroke-width="0.28" >&#8722;12</text>
<text x="425.05" y="257.70" font-size="9.1" textLength="9.20" lengthAdjust="spacingAndGlyphs" font-family="Liberation Serif" fill="#141414" stroke="#141414" stroke-width="0.28" >10</text>
<text x="434.75" y="252.90" font-size="6.4" textLength="12.00" lengthAdjust="spacingAndGlyphs" font-family="Liberation Serif" fill="#141414" stroke="#141414" stroke-width="0.28" >&#8722;11</text>
<text x="486.10" y="257.70" font-size="9.1" textLength="9.20" lengthAdjust="spacingAndGlyphs" font-family="Liberation Serif" fill="#141414" stroke="#141414" stroke-width="0.28" >10</text>
<text x="495.80" y="252.90" font-size="6.4" textLength="12.00" lengthAdjust="spacingAndGlyphs" font-family="Liberation Serif" fill="#141414" stroke="#141414" stroke-width="0.28" >&#8722;10</text>
<text x="549.75" y="257.70" font-size="9.1" textLength="9.20" lengthAdjust="spacingAndGlyphs" font-family="Liberation Serif" fill="#141414" stroke="#141414" stroke-width="0.28" >10</text>
<text x="559.45" y="252.90" font-size="6.4" textLength="8.40" lengthAdjust="spacingAndGlyphs" font-family="Liberation Serif" fill="#141414" stroke="#141414" stroke-width="0.28" >&#8722;9</text>
<text x="25.90" y="199.67" font-size="9.3" textLength="8.70" lengthAdjust="spacingAndGlyphs" font-family="Liberation Serif" fill="#141414" stroke="#141414" stroke-width="0.28" >10</text>
<text x="35.40" y="194.67" font-size="6.6" textLength="4.00" lengthAdjust="spacingAndGlyphs" font-family="Liberation Serif" fill="#141414" stroke="#141414" stroke-width="0.28" >3</text>
<text x="25.90" y="127.95" font-size="9.3" textLength="8.70" lengthAdjust="spacingAndGlyphs" font-family="Liberation Serif" fill="#141414" stroke="#141414" stroke-width="0.28" >10</text>
<text x="35.40" y="122.95" font-size="6.6" textLength="4.00" lengthAdjust="spacingAndGlyphs" font-family="Liberation Serif" fill="#141414" stroke="#141414" stroke-width="0.28" >4</text>
<text x="25.90" y="56.23" font-size="9.3" textLength="8.70" lengthAdjust="spacingAndGlyphs" font-family="Liberation Serif" fill="#141414" stroke="#141414" stroke-width="0.28" >10</text>
<text x="35.40" y="51.23" font-size="6.6" textLength="4.00" lengthAdjust="spacingAndGlyphs" font-family="Liberation Serif" fill="#141414" stroke="#141414" stroke-width="0.28" >5</text>
<text x="336.60" y="55.60" font-size="9.5" textLength="14.40" lengthAdjust="spacingAndGlyphs" font-family="Liberation Serif" fill="#141414" stroke="#141414" stroke-width="0.28" >100</text>
<text x="341.30" y="203.90" font-size="9.5" textLength="9.70" lengthAdjust="spacingAndGlyphs" font-family="Liberation Serif" fill="#141414" stroke="#141414" stroke-width="0.28" >10</text>
<text x="108.30" y="275.10" font-size="12.8" textLength="12.10" lengthAdjust="spacingAndGlyphs" font-family="Liberation Serif" fill="#141414" stroke="#141414" stroke-width="0.28" >24</text>
<text x="121.70" y="279.10" font-size="9.6" textLength="4.60" lengthAdjust="spacingAndGlyphs" font-family="Liberation Serif" fill="#141414" stroke="#141414" stroke-width="0.28" >&#956;</text>
<text x="127.80" y="279.10" font-size="9.6" textLength="7.30" lengthAdjust="spacingAndGlyphs" font-family="Liberation Serif" fill="#141414" stroke="#141414" stroke-width="0.28" >m</text>
<text x="137.80" y="275.10" font-size="12.8" textLength="24.50" lengthAdjust="spacingAndGlyphs" font-family="Liberation Serif" fill="#141414" stroke="#141414" stroke-width="0.28" >Flux</text>
<text x="165.40" y="275.10" font-size="12.8" textLength="21.80" lengthAdjust="spacingAndGlyphs" font-family="Liberation Serif" fill="#141414" stroke="#141414" stroke-width="0.28" >[erg</text>
<text x="189.80" y="275.10" font-size="12.8" textLength="4.50" lengthAdjust="spacingAndGlyphs" font-family="Liberation Serif" fill="#141414" stroke="#141414" stroke-width="0.28" >s</text>
<text x="194.60" y="270.00" font-size="8.8" textLength="10.00" lengthAdjust="spacingAndGlyphs" font-family="Liberation Serif" fill="#141414" stroke="#141414" stroke-width="0.28" >&#8722;1</text>
<text x="205.80" y="275.10" font-size="12.8" textLength="14.40" lengthAdjust="spacingAndGlyphs" font-family="Liberation Serif" fill="#141414" stroke="#141414" stroke-width="0.28" >cm</text>
<text x="220.10" y="270.00" font-size="8.8" textLength="10.10" lengthAdjust="spacingAndGlyphs" font-family="Liberation Serif" fill="#141414" stroke="#141414" stroke-width="0.28" >&#8722;2</text>
<text x="230.40" y="275.10" font-size="12.8" textLength="2.40" lengthAdjust="spacingAndGlyphs" font-family="Liberation Serif" fill="#141414" stroke="#141414" stroke-width="0.28" >]</text>
<text x="420.60" y="275.10" font-size="12.8" textLength="12.10" lengthAdjust="spacingAndGlyphs" font-family="Liberation Serif" fill="#141414" stroke="#141414" stroke-width="0.28" >24</text>
<text x="434.00" y="279.10" font-size="9.6" textLength="4.60" lengthAdjust="spacingAndGlyphs" font-family="Liberation Serif" fill="#141414" stroke="#141414" stroke-width="0.28" >&#956;</text>
<text x="440.10" y="279.10" font-size="9.6" textLength="7.30" lengthAdjust="spacingAndGlyphs" font-family="Liberation Serif" fill="#141414" stroke="#141414" stroke-width="0.28" >m</text>
<text x="453.20" y="275.10" font-size="12.8" textLength="24.50" lengthAdjust="spacingAndGlyphs" font-family="Liberation Serif" fill="#141414" stroke="#141414" stroke-width="0.28" >Flux</text>
<text x="480.80" y="275.10" font-size="12.8" textLength="21.80" lengthAdjust="spacingAndGlyphs" font-family="Liberation Serif" fill="#141414" stroke="#141414" stroke-width="0.28" >[erg</text>
<text x="505.20" y="275.10" font-size="12.8" textLength="4.50" lengthAdjust="spacingAndGlyphs" font-family="Liberation Serif" fill="#141414" stroke="#141414" stroke-width="0.28" >s</text>
<text x="510.00" y="270.00" font-size="8.8" textLength="10.00" lengthAdjust="spacingAndGlyphs" font-family="Liberation Serif" fill="#141414" stroke="#141414" stroke-width="0.28" >&#8722;1</text>
<text x="521.20" y="275.10" font-size="12.8" textLength="14.40" lengthAdjust="spacingAndGlyphs" font-family="Liberation Serif" fill="#141414" stroke="#141414" stroke-width="0.28" >cm</text>
<text x="535.50" y="270.00" font-size="8.8" textLength="10.10" lengthAdjust="spacingAndGlyphs" font-family="Liberation Serif" fill="#141414" stroke="#141414" stroke-width="0.28" >&#8722;2</text>
<text x="545.80" y="275.10" font-size="12.8" textLength="2.40" lengthAdjust="spacingAndGlyphs" font-family="Liberation Serif" fill="#141414" stroke="#141414" stroke-width="0.28" >]</text>
<g transform="translate(15.90,159.30) rotate(-90)"><text x="0.00" y="0.00" font-size="12.8" textLength="20.30" lengthAdjust="spacingAndGlyphs" font-family="Liberation Serif" fill="#141414" stroke="#141414" stroke-width="0.28">n(H</text><text x="21.70" y="2.00" font-size="8.8" textLength="3.60" lengthAdjust="spacingAndGlyphs" font-family="Liberation Serif" fill="#141414" stroke="#141414" stroke-width="0.28">2</text><text x="26.70" y="0.00" font-size="12.8" textLength="4.80" lengthAdjust="spacingAndGlyphs" font-family="Liberation Serif" fill="#141414" stroke="#141414" stroke-width="0.28">)</text><text x="35.00" y="0.00" font-size="13.2" textLength="17.90" lengthAdjust="spacingAndGlyphs" font-family="Liberation Serif" fill="#141414" stroke="#141414" stroke-width="0.28">[cm</text><text x="55.90" y="-8.80" font-size="7.4" textLength="8.40" lengthAdjust="spacingAndGlyphs" font-family="Liberation Serif" fill="#141414" stroke="#141414" stroke-width="0.28">-3</text><text x="64.70" y="0.00" font-size="12.8" textLength="2.30" lengthAdjust="spacingAndGlyphs" font-family="Liberation Serif" fill="#141414" stroke="#141414" stroke-width="0.28">]</text></g>
<g transform="translate(330.60,144.70) rotate(-90)"><text x="0.00" y="0.00" font-size="12.8" textLength="8.10" lengthAdjust="spacingAndGlyphs" font-family="Liberation Serif" fill="#141414" stroke="#141414" stroke-width="0.28">T</text><text x="9.70" y="2.60" font-size="9.0" textLength="7.80" lengthAdjust="spacingAndGlyphs" font-family="Liberation Serif" fill="#141414" stroke="#141414" stroke-width="0.28">kin</text><text x="24.60" y="0.00" font-size="12.8" textLength="15.00" lengthAdjust="spacingAndGlyphs" font-family="Liberation Serif" fill="#141414" stroke="#141414" stroke-width="0.28">[K]</text></g>
<rect x="491.6" y="198.6" width="102.9" height="39.9" fill="#fff" stroke="#505050" stroke-width="1"/>
<rect x="497.10" y="204.80" width="4.8" height="4.8" fill="#000"/>
<circle cx="499.80" cy="219.90" r="3.5" fill="#e01818" stroke="#902020" stroke-width="0.8"/>
<circle cx="499.80" cy="230.40" r="3.5" fill="#f0a020" stroke="#a07020" stroke-width="0.8"/>
<text x="507.80" y="211.70" font-size="13.3" textLength="81.20" lengthAdjust="spacingAndGlyphs" font-family="Liberation Serif" fill="#141414" stroke="#141414" stroke-width="0.28" >M0811 clumps</text>
<text x="507.80" y="223.60" font-size="13.3" textLength="65.80" lengthAdjust="spacingAndGlyphs" font-family="Liberation Serif" fill="#141414" stroke="#141414" stroke-width="0.28" >N48 clumps</text>
<text x="507.80" y="234.70" font-size="13.3" textLength="65.80" lengthAdjust="spacingAndGlyphs" font-family="Liberation Serif" fill="#141414" stroke="#141414" stroke-width="0.28" >N49 clumps</text></svg>
</body></html>
